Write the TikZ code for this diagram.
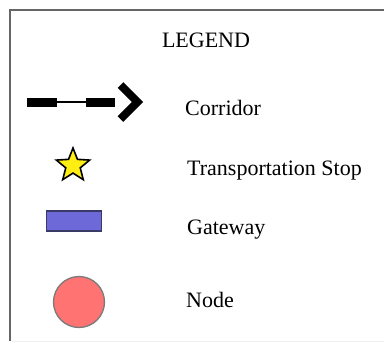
\documentclass[tikz,border=0pt]{standalone}
\usepackage{fontspec}
\setmainfont{Liberation Serif}
\usetikzlibrary{shapes.geometric}
\definecolor{frame}{HTML}{666666}
\definecolor{staryellow}{HTML}{FFEE11}
\definecolor{gatefill}{HTML}{6D69D8}
\definecolor{gateline}{HTML}{3A3A66}
\definecolor{nodefill}{HTML}{FF7373}
\definecolor{nodeline}{HTML}{7A7A7A}
\definecolor{thin}{HTML}{D8D8D8}
\tikzset{
  lbl/.style={anchor=base west, inner sep=0pt, font=\fontsize{22}{26}\selectfont},
  dashbar/.style={fill=black, draw=none},
}
\begin{document}
\begin{tikzpicture}[x=1pt,y=-1pt]
\useasboundingbox[fill=white] (0,0) rectangle (384,343);
% frame
\draw[frame, line width=2pt] (10,341) -- (10,10) -- (386,10);
\draw[black!6, line width=1pt] (11,341) -- (384,341);
% title
\node[anchor=base, inner sep=0pt, font=\fontsize{22}{26}\selectfont] (title) at (206,47) {LEGEND};
% corridor symbol
\draw[thin, line width=1.2pt] (57,102) -- (86,102);
\fill[dashbar] (27,97.5) rectangle (57,106.5);
\fill[dashbar] (86,97.5) rectangle (115,106.5);
\draw[black, line width=8pt, miter limit=10] (120.5,85) -- (137.5,102) -- (120.5,119);
\node[lbl] (corridor) at (185,115) {Corridor};
% transportation stop
\node[star, star points=5, star point ratio=2.3, minimum size=35pt, inner sep=0pt,
      fill=staryellow, draw=black, line width=1.6pt] (stop) at (73,165.5) {};
\node[lbl] (stoplbl) at (187,175) {Transportation Stop};
% gateway
\node[draw=gateline, fill=gatefill, line width=1.2pt, minimum width=55pt, minimum height=20pt, inner sep=0pt] (gate) at (74,221) {};
\node[lbl] (gatelbl) at (187,234) {Gateway};
% node
\node[circle, draw=nodeline, fill=nodefill, line width=1.3pt, minimum size=51pt, inner sep=0pt] (nd) at (79,302) {};
\node[lbl] (ndlbl) at (186,307) {Node};
\end{tikzpicture}
\end{document}
